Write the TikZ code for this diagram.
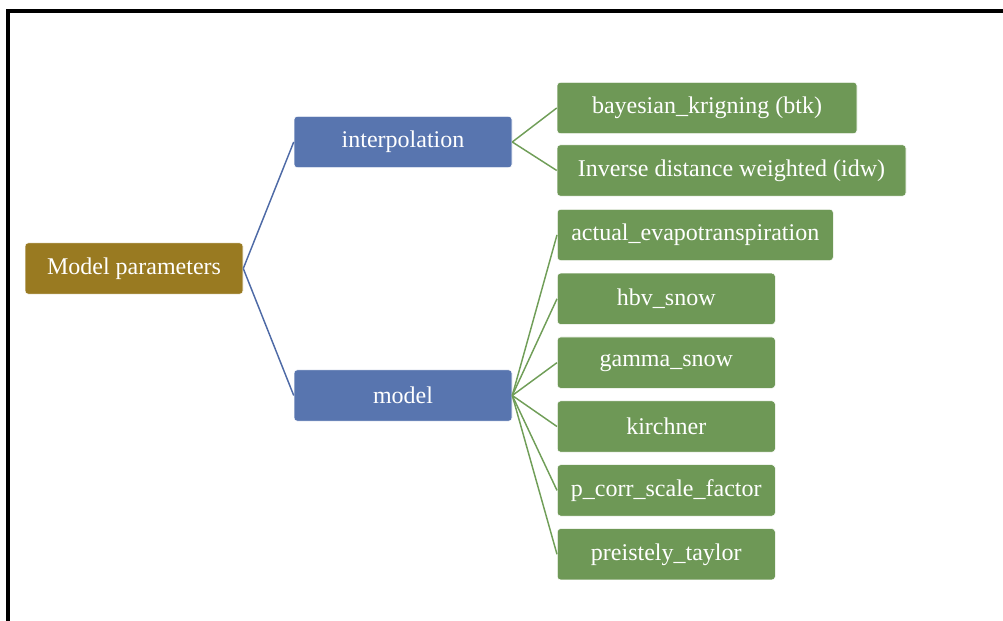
\documentclass[tikz,border=0pt]{standalone}
\usepackage{fontspec}
\setmainfont{Liberation Serif}
\usetikzlibrary{positioning}
\definecolor{rootgold}{RGB}{153,122,33}
\definecolor{midblue}{RGB}{88,117,175}
\definecolor{leafgreen}{RGB}{110,152,86}
\definecolor{linkblue}{RGB}{78,106,166}
\definecolor{linkgreen}{RGB}{112,158,88}

\begin{document}
\begin{tikzpicture}[
  x=0.75pt, y=0.75pt,
  box/.style={
    rectangle, rounded corners=2.5pt,
    minimum height=38.5pt, inner sep=2pt,
    align=center, text=white, draw=white, line width=0.4pt,
    font=\fontsize{18}{21}\selectfont
  },
  rootbox/.style={box, fill=rootgold, minimum width=163.5pt},
  midbox/.style={box, fill=midblue, minimum width=163.5pt},
  leafbox/.style={box, fill=leafgreen, minimum width=163.5pt},
  bluelink/.style={draw=linkblue, line width=1.1pt},
  greenlink/.style={draw=linkgreen, line width=1.1pt}
]
  \useasboundingbox (0,0) rectangle (1003,621);
  % frame
  \draw[line width=2.5pt] (1003,610) -- (8,610) -- (8,0);

  \node[rootbox] (root) at (134,352.5) {Model parameters};
  \node[midbox] (interp) at (403,479) {interpolation};
  \node[midbox] (model) at (403,225.5) {model};

  \node[leafbox, minimum width=225pt] (btk) at (707,513) {bayesian\_krigning (btk)};
  \node[leafbox, minimum width=261.75pt] (idw) at (731.5,450.5) {Inverse distance weighted (idw)};

  \node[leafbox, minimum width=207pt, anchor=north west] (aet) at (557,412) {actual\_evapotranspiration};
  \node[leafbox, below right=9pt and 0pt of aet.south west] (hbv) {hbv\_snow};
  \node[leafbox, below right=9pt and 0pt of hbv.south west] (gamma) {gamma\_snow};
  \node[leafbox, below right=9pt and 0pt of gamma.south west] (kirch) {kirchner};
  \node[leafbox, below right=9pt and 0pt of kirch.south west] (pcorr) {p\_corr\_scale\_factor};
  \node[leafbox, below right=9pt and 0pt of pcorr.south west] (ptaylor) {preistely\_taylor};

  \draw[bluelink] (root.east) -- (interp.west);
  \draw[bluelink] (root.east) -- (model.west);

  \draw[greenlink] (interp.east) -- (btk.west);
  \draw[greenlink] (interp.east) -- (idw.west);
  \foreach \leaf in {aet, hbv, gamma, kirch, pcorr, ptaylor}
    \draw[greenlink] (model.east) -- (\leaf.west);
\end{tikzpicture}
\end{document}
